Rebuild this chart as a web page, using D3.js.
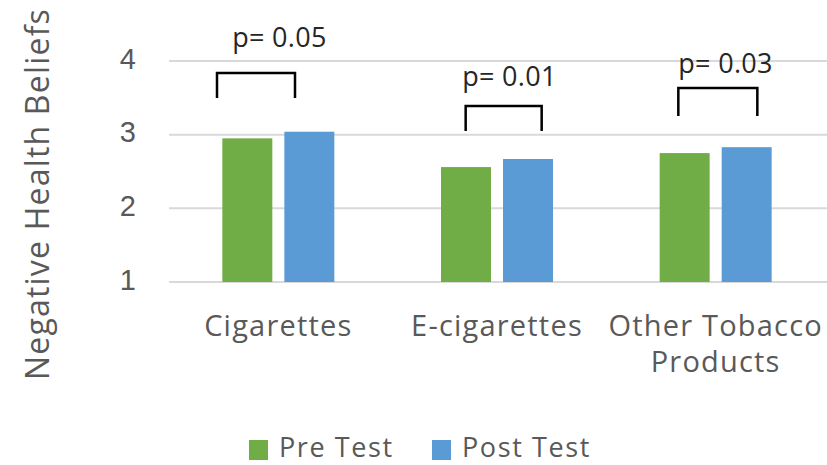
<!DOCTYPE html>
<html>
<head>
<meta charset="utf-8">
<script src="https://cdn.jsdelivr.net/npm/d3@7"></script>
<style>
  html, body { margin: 0; padding: 0; background: #fff; }
  svg { display: block; font-family: "Open Sans", "Liberation Sans", sans-serif; }
</style>
</head>
<body>
<svg id="chart" width="827" height="465"></svg>
<script>
// Mean negative health belief scores before and after the intervention
const categories = ["Cigarettes", "E-cigarettes", "Other Tobacco Products"];
const preTest = [2.95, 2.56, 2.75];
const postTest = [3.04, 2.67, 2.83];
const seriesNames = ["Pre Test", "Post Test"];
const yTicks = [1, 2, 3, 4];
const pLabels = ["p= 0.05", "p= 0.01", "p= 0.03"];

// Category label line breaks
const categoryLines = [["Cigarettes"], ["E-cigarettes"], ["Other Tobacco", "Products"]];

// Significance bracket placement: x offsets within each category band (px),
// y levels in axis units
const bracketLayout = [
  { x0: 48, x1: 126, top: 3.837, foot: 3.498, labelX: 110.5, labelY: 4.19 },
  { x0: 78, x1: 154, top: 3.389, foot: 3.05, labelX: 121.8, labelY: 3.66 },
  { x0: 72, x1: 151, top: 3.633, foot: 3.253, labelX: 119.2, labelY: 3.837 }
];

const colors = { "Pre Test": "#70ad47", "Post Test": "#5b9bd5" };
const textGrey = "#595959";

const svg = d3.select("#chart");

const y = d3.scaleLinear().domain([1, 4]).range([282, 61]);
const x0 = d3.scaleBand().domain(categories).range([169, 825]).padding(0);
const x1 = d3.scaleBand().domain(seriesNames)
  .range([0, 112]).paddingInner(0.194).paddingOuter(0);
const innerOffset = (x0.bandwidth() - 112) / 2;

const rows = categories.map((c, i) => ({
  category: c,
  values: [
    { series: "Pre Test", value: preTest[i] },
    { series: "Post Test", value: postTest[i] }
  ]
}));

// Gridlines
svg.append("g")
  .selectAll("line")
  .data(yTicks)
  .join("line")
  .attr("x1", 169).attr("x2", 827)
  .attr("y1", d => y(d)).attr("y2", d => y(d))
  .attr("stroke", "#d9d9d9").attr("stroke-width", 2);

// Y tick labels
const yAxis = d3.axisLeft(y).tickValues(yTicks).tickSize(0).tickPadding(0).tickFormat(d3.format("d"));
const yg = svg.append("g").attr("transform", "translate(136,0)").call(yAxis);
yg.select(".domain").remove();
yg.selectAll("text")
  .attr("dy", null).attr("y", 7)
  .attr("fill", textGrey)
  .style("font-size", "29px");

// Bars
const groups = svg.append("g")
  .selectAll("g")
  .data(rows)
  .join("g")
  .attr("transform", d => `translate(${x0(d.category) + innerOffset},0)`);

groups.selectAll("rect")
  .data(d => d.values)
  .join("rect")
  .attr("x", d => x1(d.series))
  .attr("width", x1.bandwidth())
  .attr("y", d => y(d.value))
  .attr("height", d => y(1) - y(d.value))
  .attr("fill", d => colors[d.series]);

// Category labels
const catLabels = svg.append("g")
  .selectAll("text")
  .data(categories)
  .join("text")
  .attr("x", d => x0(d) + x0.bandwidth() / 2)
  .attr("y", 336)
  .attr("text-anchor", "middle")
  .attr("fill", textGrey)
  .style("font-size", "29px")
  .style("letter-spacing", "1.2px");
catLabels.selectAll("tspan")
  .data((d, i) => categoryLines[i])
  .join("tspan")
  .attr("x", function () { return this.parentNode.getAttribute("x"); })
  .attr("dy", (d, i) => i === 0 ? 0 : 36)
  .text(d => d);

// Significance brackets and p-values
const brackets = svg.append("g")
  .selectAll("g")
  .data(categories.map((c, i) => ({ category: c, p: pLabels[i], layout: bracketLayout[i] })))
  .join("g");

brackets.append("path")
  .attr("d", d => {
    const bx0 = x0(d.category) + d.layout.x0;
    const bx1 = x0(d.category) + d.layout.x1;
    return `M${bx0},${y(d.layout.foot)}V${y(d.layout.top)}H${bx1}V${y(d.layout.foot)}`;
  })
  .attr("fill", "none")
  .attr("stroke", "#000")
  .attr("stroke-width", 2.5);

brackets.append("text")
  .attr("x", d => x0(d.category) + d.layout.labelX)
  .attr("y", d => y(d.layout.labelY))
  .attr("text-anchor", "middle")
  .attr("fill", "#262626")
  .style("font-size", "27px")
  .style("letter-spacing", "0.3px")
  .text(d => d.p);

// Y axis title
svg.append("text")
  .attr("transform", "translate(49,194) rotate(-90)")
  .attr("text-anchor", "middle")
  .attr("fill", textGrey)
  .style("font-size", "32px")
  .style("letter-spacing", "1.2px")
  .text("Negative Health Beliefs");

// Legend
const legend = svg.append("g");
const legendX = [249, 432];
const legendItems = legend.selectAll("g")
  .data(seriesNames)
  .join("g")
  .attr("transform", (d, i) => `translate(${legendX[i]},440)`);
legendItems.append("rect")
  .attr("width", 19).attr("height", 20)
  .attr("fill", d => colors[d]);
legendItems.append("text")
  .attr("x", 30).attr("y", 17)
  .attr("fill", textGrey)
  .style("font-size", "27px")
  .style("letter-spacing", "1.6px")
  .text(d => d);
</script>
</body>
</html>
